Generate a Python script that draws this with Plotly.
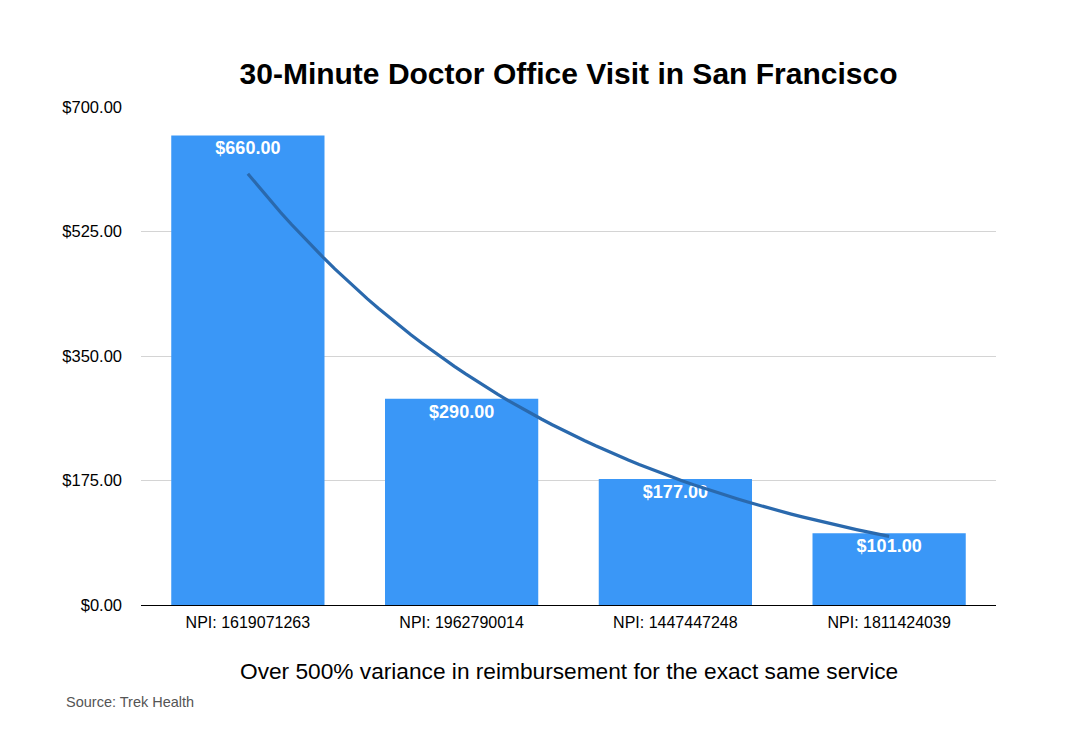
import numpy as np
import plotly.graph_objects as go

# values
providers = ["NPI: 1619071263", "NPI: 1962790014", "NPI: 1447447248", "NPI: 1811424039"]
prices = [660, 290, 177, 101]
y_ticks = [0, 175, 350, 525, 700]

title = "30-Minute Doctor Office Visit in San Francisco"
subtitle = "Over 500% variance in reimbursement for the exact same service"
source = "Source: Trek Health"

FONT = "Liberation Sans, Arial, Helvetica, sans-serif"
BAR_COLOR = "#3a97f7"
TREND_COLOR = "#2a69ad"

# page body adds an 8px offset, so margins are shifted to compensate
W, H = 1067, 742
OFF = 8
plot_left, plot_right, plot_top, plot_bottom = 141, 996, 107, 605

pos = np.arange(len(prices))

# exponential trendline (least squares on log values), like the spreadsheet one
slope, intercept = np.polyfit(pos, np.log(prices), 1)
trend_x = np.linspace(pos[0], pos[-1], 60)
trend_y = np.exp(intercept + slope * trend_x)

fig = go.Figure()

fig.add_trace(go.Bar(
    x=pos,
    y=prices,
    marker=dict(color=BAR_COLOR, line=dict(width=0)),
    text=[f"${v:,.2f}" for v in prices],
    textposition="inside",
    insidetextanchor="end",
    textangle=0,
    textfont=dict(family=FONT, size=18, color="white", weight="bold"),
    showlegend=False,
))

fig.add_trace(go.Scatter(
    x=trend_x,
    y=trend_y,
    mode="lines",
    line=dict(color=TREND_COLOR, width=3.2),
    hoverinfo="skip",
    showlegend=False,
))

plot_w = plot_right - plot_left
plot_h = plot_bottom - plot_top

fig.update_layout(
    width=W,
    height=H,
    plot_bgcolor="white",
    paper_bgcolor="white",
    font=dict(family=FONT, color="black"),
    bargap=0.283,
    margin=dict(l=plot_left - OFF, r=W - plot_right + OFF,
                t=plot_top - OFF, b=H - plot_bottom + OFF),
    title=dict(
        text=f"<b>{title}</b>",
        x=0.5, xanchor="center",
        xref="paper",
        y=1 - (73 - OFF) / H, yanchor="middle",
        font=dict(size=30, family=FONT),
    ),
    xaxis=dict(
        tickmode="array",
        tickvals=pos,
        ticktext=providers,
        range=[-0.5, len(prices) - 0.5],
        showgrid=False,
        zeroline=False,
        showline=False,
        ticks="",
        ticklabelstandoff=6,
        tickfont=dict(size=16, family=FONT),
    ),
    yaxis=dict(
        range=[0, 700],
        tickmode="array",
        tickvals=y_ticks,
        ticktext=[f"${v:,.2f}" for v in y_ticks],
        showgrid=True,
        gridcolor="#d4d4d4",
        gridwidth=1,
        zeroline=True,
        zerolinecolor="black",
        zerolinewidth=1.3,
        ticks="",
        ticklabelstandoff=18,
        tickfont=dict(size=16.5, family=FONT),
    ),
    annotations=[
        dict(
            text=subtitle,
            x=0.5, xref="paper", xanchor="center",
            y=(plot_bottom - 671) / plot_h, yref="paper", yanchor="middle",
            showarrow=False,
            font=dict(size=22.7, family=FONT, color="black"),
        ),
        dict(
            text=source,
            x=(64 - plot_left) / plot_w, xref="paper", xanchor="left",
            y=(plot_bottom - 702) / plot_h, yref="paper", yanchor="middle",
            showarrow=False,
            font=dict(size=14.5, family=FONT, color="#555555"),
        ),
    ],
)

fig.write_html("out.html")
